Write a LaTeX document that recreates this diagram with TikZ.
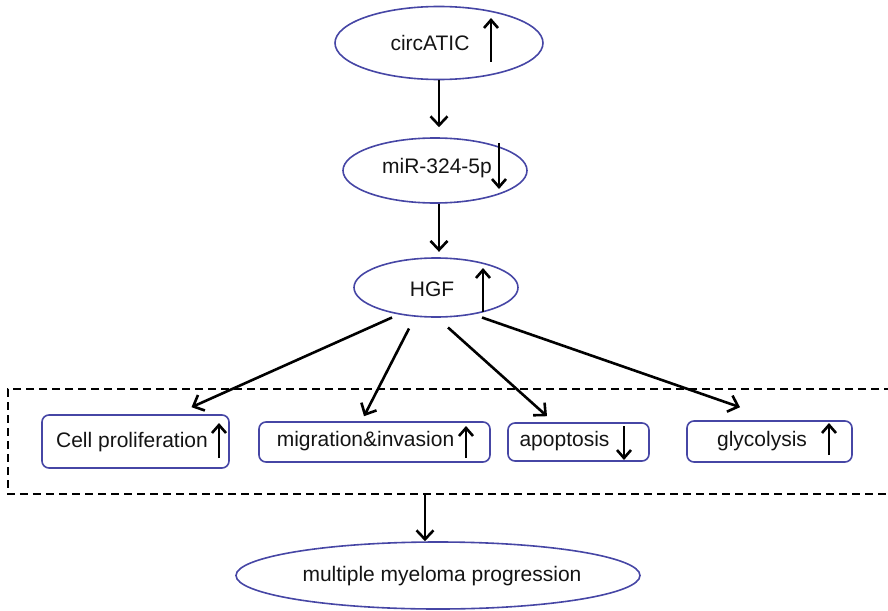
\documentclass[tikz,border=0pt]{standalone}
\usepackage{fontspec}
\setmainfont{Liberation Sans}
\usetikzlibrary{shapes.geometric,arrows.meta,calc}
\definecolor{edgeblue}{RGB}{70,70,165}
\definecolor{txt}{RGB}{20,20,20}
\begin{document}
\begin{tikzpicture}[x=1pt,y=-1pt,
  oval/.style={ellipse,draw=edgeblue,line width=1.6pt,inner sep=0pt},
  rbox/.style={rectangle,rounded corners=7pt,draw=edgeblue,line width=1.6pt,inner sep=0pt},
  lbl/.style={anchor=base,inner sep=0pt,text=txt,font=\fontsize{21}{25}\selectfont},
  conn/.style={line width=2.6pt,-{Straight Barb[length=9pt,width=17pt,line width=2.6pt]}},
  ind/.style={line width=2.6pt,-{Straight Barb[length=8pt,width=14pt,line width=2.6pt]}}]
\useasboundingbox (0,0) rectangle (888,610);
% shapes
\node[oval,minimum width=208pt,minimum height=73pt] (circ) at (439,43) {};
\node[oval,minimum width=184pt,minimum height=65pt] (mir) at (435,170.5) {};
\node[oval,minimum width=164pt,minimum height=59pt] (hgf) at (436,287.5) {};
\node[oval,minimum width=404pt,minimum height=67pt] (mm) at (438,575.5) {};
\node[rbox,minimum width=187pt,minimum height=53pt] (cell) at (135.5,441.5) {};
\node[rbox,minimum width=231pt,minimum height=40pt] (mig) at (374.5,442) {};
\node[rbox,minimum width=141pt,minimum height=38pt] (apo) at (578.5,442) {};
\node[rbox,minimum width=165pt,minimum height=41pt] (gly) at (769.5,441.5) {};
% dashed group
\draw[line width=1.5pt,dash pattern=on 8pt off 5pt] (892,389) -- (8,389) -- (8,494) -- (892,494);
\coordinate (grpbot) at (425,494);
% texts
\node[lbl] (tcirc) at (430,51) {circATIC};
\node[lbl] (tmir) at (437,173) {miR-324-5p};
\node[lbl] (thgf) at (432,296) {HGF};
\node[lbl] (tcell) at (132,447.5) {Cell proliferation};
\node[lbl] (tmig) at (365.5,446.5) {migration\&invasion};
\node[lbl] (tapo) at (564.5,446.5) {apoptosis};
\node[lbl] (tgly) at (762,446.5) {glycolysis};
\node[lbl] (tmm) at (442,581.5) {multiple myeloma progression};
% indicator arrows
\draw[ind] (491,62) -- (491,18);
\draw[ind] (499,143) -- (499,189);
\draw[ind] (483,312) -- (483,268);
\draw[ind] (219,458) -- (219,423);
\draw[ind] (466,458) -- (466,426);
\draw[ind] (624,426) -- (624,460);
\draw[ind] (829,455) -- (829,423);
% connectors
\draw[conn] (circ.south) -- ($(circ.south |- mir.north)+(0,-10)$);
\draw[conn] ($(mir.south)+(4,0)$) -- ($(mir.south -| circ.south)+(0,48)$);
\draw[conn] ($(hgf)+(-44,30)$) -- ($(cell.north)+(56,-7)$);
\draw[conn] ($(hgf)+(-27,41)$) -- ($(mig.north)+(-10.5,-5)$);
\draw[conn] ($(hgf)+(12,40)$) -- ($(apo.north)+(-31.5,-6)$);
\draw[conn] ($(hgf)+(46,30)$) -- ($(gly.north)+(-29.5,-13)$);
\draw[conn] (grpbot) -- (grpbot |- mm.north);
\end{tikzpicture}
\end{document}
